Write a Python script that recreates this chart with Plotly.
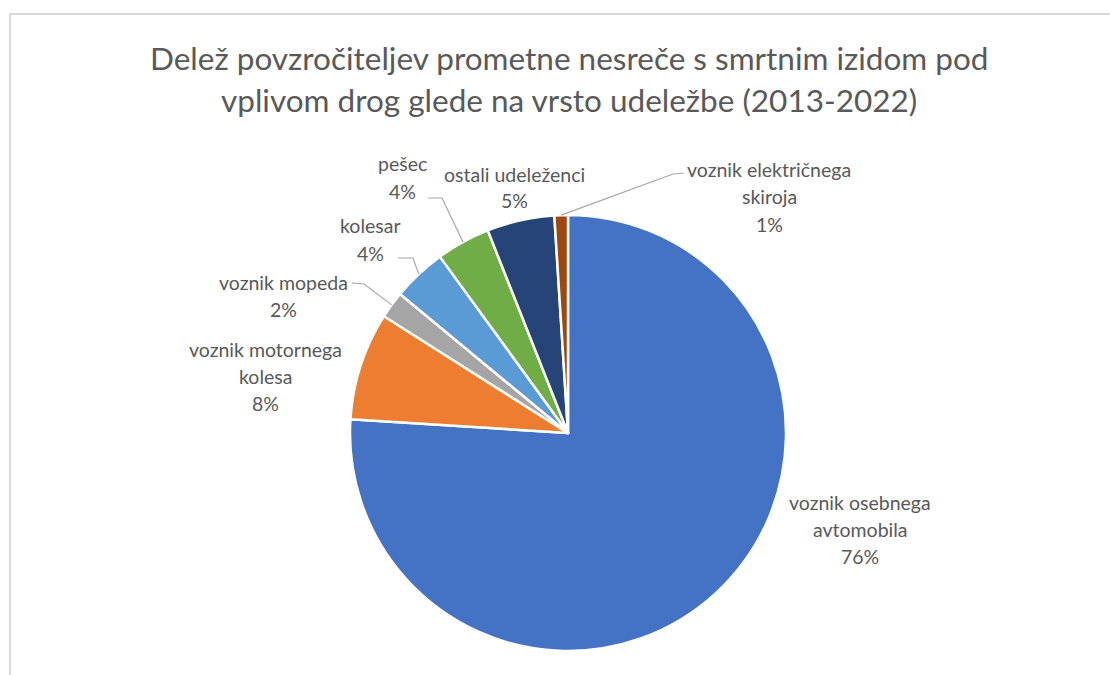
import math
import plotly.graph_objects as go

# Chart data
categories = [
    "voznik osebnega avtomobila",
    "voznik motornega kolesa",
    "voznik mopeda",
    "kolesar",
    "pešec",
    "ostali udeleženci",
    "voznik električnega skiroja",
]
shares = [76, 8, 2, 4, 4, 5, 1]
label_lines = [
    ["voznik osebnega", "avtomobila"],
    ["voznik motornega", "kolesa"],
    ["voznik mopeda"],
    ["kolesar"],
    ["pešec"],
    ["ostali udeleženci"],
    ["voznik električnega", "skiroja"],
]
title_lines = [
    "Delež povzročiteljev prometne nesreče s smrtnim izidom pod",
    "vplivom drog glede na vrsto udeležbe (2013-2022)",
]

# Styling
colors = ["#4472C4", "#ED7D31", "#A5A5A5", "#5B9BD5", "#70AD47", "#264478", "#9E480E"]
W, H = 1110, 675
CX, CY, R = 568, 433, 218          # pie centre / radius in pixels
FONT = "Lato"
TEXT_COLOR = "#595959"
LABEL_SIZE = 19.5
TITLE_SIZE = 31.5
LINE_GAP = 27

# Label block placement (centre x, first-line y) in pixels
label_pos = [
    (860, 502),
    (265, 349),
    (283, 282),
    (370, 226),
    (402, 164),
    (514, 174),
    (769, 170),
]
# Leader line bends on the label side (None = no leader)
leader_pts = [
    None,
    None,
    [(352, 283), (364, 284)],
    [(398, 258), (413, 258)],
    [(428, 198), (442, 198)],
    None,
    [(684, 173), (673, 174)],
]


def px(x):
    return x / W


def py(y):
    return 1 - y / H


fig = go.Figure(
    go.Pie(
        labels=categories,
        values=shares,
        sort=False,
        direction="clockwise",
        rotation=0,
        marker=dict(colors=colors, line=dict(color="white", width=2.5)),
        textinfo="none",
        hoverinfo="label+percent",
        domain=dict(x=[px(CX - R), px(CX + R)], y=[py(CY + R), py(CY - R)]),
        showlegend=False,
    )
)

annotations = []
shapes = []

# Title
for i, line in enumerate(title_lines):
    annotations.append(dict(
        x=px(569), y=py(58 + 42 * i), xref="paper", yref="paper",
        text=line, showarrow=False, xanchor="center", yanchor="middle",
        font=dict(family=FONT, size=TITLE_SIZE, color=TEXT_COLOR),
    ))

total = sum(shares)
cum = 0
for i, v in enumerate(shares):
    mid = (cum + v / 2) / total * 2 * math.pi
    cum += v
    lx, ly = label_pos[i]
    lines = label_lines[i] + [f"{round(v / total * 100)}%"]
    for j, t in enumerate(lines):
        annotations.append(dict(
            x=px(lx), y=py(ly + LINE_GAP * j), xref="paper", yref="paper",
            text=t, showarrow=False, xanchor="center", yanchor="middle",
            font=dict(family=FONT, size=LABEL_SIZE, color=TEXT_COLOR),
        ))
    if leader_pts[i]:
        ex = CX + R * math.sin(mid)
        ey = CY - R * math.cos(mid)
        pts = leader_pts[i] + [(ex, ey)]
        path = "M " + " L ".join(f"{px(a):.5f},{py(b):.5f}" for a, b in pts)
        shapes.append(dict(type="path", path=path, xref="paper", yref="paper",
                           line=dict(color="#A6A6A6", width=1.2)))

# Chart area frame
shapes.append(dict(type="rect", xref="paper", yref="paper",
                   x0=px(10), y0=py(H + 20), x1=px(W + 20), y1=py(14),
                   line=dict(color="#D9D9D9", width=2), layer="below"))

fig.update_layout(
    width=W, height=H,
    margin=dict(l=0, r=0, t=0, b=0),
    paper_bgcolor="white",
    plot_bgcolor="white",
    annotations=annotations,
    shapes=shapes,
)

fig.write_html("out.html")
